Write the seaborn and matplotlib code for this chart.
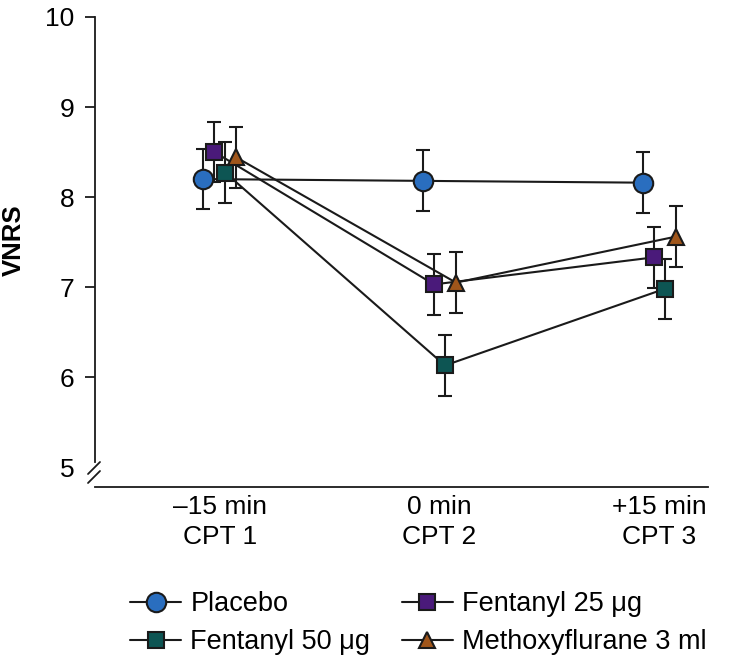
import matplotlib
matplotlib.use("Agg")
import matplotlib.pyplot as plt
from matplotlib.lines import Line2D
import numpy as np
import seaborn as sns

# time points (x categories)
timepoints = ["\u201315 min\nCPT 1", "0 min\nCPT 2", "+15 min\nCPT 3"]

# mean VNRS per group
placebo = [8.20, 8.18, 8.16]
fentanyl_25 = [8.50, 7.03, 7.33]
fentanyl_50 = [8.27, 6.13, 6.98]
methoxyflurane = [8.44, 7.05, 7.56]

# error bar half-widths
placebo_err = [0.33, 0.34, 0.34]
fentanyl_25_err = [0.33, 0.34, 0.34]
fentanyl_50_err = [0.34, 0.34, 0.33]
methoxyflurane_err = [0.34, 0.34, 0.34]

labels = ["Placebo", "Fentanyl 25 \u03bcg", "Fentanyl 50 \u03bcg", "Methoxyflurane 3 ml"]

STYLES = {
    "Placebo": dict(color="#2a6ebf", marker="o", ms=14, offset=-0.075),
    "Fentanyl 25 \u03bcg": dict(color="#4a1a7a", marker="s", ms=11, offset=-0.025),
    "Fentanyl 50 \u03bcg": dict(color="#0d5553", marker="s", ms=11, offset=0.025),
    "Methoxyflurane 3 ml": dict(color="#a0561b", marker="^", ms=11.5, offset=0.075),
}
INK = "#1a1a1a"

sns.set_style("ticks")
plt.rcParams["font.family"] = ["Liberation Sans", "DejaVu Sans"]
plt.rcParams["font.size"] = 19
plt.rcParams["text.color"] = "black"
plt.rcParams["xtick.color"] = INK
plt.rcParams["ytick.color"] = INK
plt.rcParams["xtick.labelcolor"] = "black"
plt.rcParams["ytick.labelcolor"] = "black"

W, H = 751, 664
fig = plt.figure(figsize=(W / 100, H / 100), dpi=100)
ax = fig.add_axes([95 / W, 1 - 487 / H, (708 - 95) / W, 470 / H])

series = [placebo, fentanyl_25, fentanyl_50, methoxyflurane]
errors = [placebo_err, fentanyl_25_err, fentanyl_50_err, methoxyflurane_err]
x = np.arange(len(timepoints))

for label, vals, err in zip(labels, series, errors):
    st = STYLES[label]
    xp = x + st["offset"]
    ax.errorbar(xp, vals, yerr=err, fmt="none", ecolor=INK,
                elinewidth=1.5, capsize=4.7, capthick=1.5, zorder=2)
    sns.lineplot(x=xp, y=vals, ax=ax, color=INK, lw=1.5,
                 marker=st["marker"], ms=st["ms"], markerfacecolor=st["color"],
                 markeredgecolor=INK, markeredgewidth=1.5, zorder=3)

ax.set_xlim(-0.569, 2.223)
ax.set_ylim(4.78, 10.0)
ax.set_xticks(x)
ax.set_xticklabels(timepoints, linespacing=1.3)
ax.set_yticks([5, 6, 7, 8, 9, 10])
ax.tick_params(axis="x", length=0, pad=6, labelsize=19)
ax.tick_params(axis="y", length=7, width=1.3, pad=8, labelsize=19)
ax.yaxis.get_major_ticks()[0].tick1line.set_visible(False)

sns.despine(ax=ax)
ax.spines["left"].set_bounds(5.056, 10)
for s in ("left", "bottom"):
    ax.spines[s].set_linewidth(1.3)
    ax.spines[s].set_color(INK)

# axis break marks
for dy in (0, 9):
    fig.add_artist(Line2D([88 / W, 100 / W], [1 - (474 + dy) / H, 1 - (462 + dy) / H],
                          color=INK, lw=1.3, transform=fig.transFigure))

fig.text(14 / W, 1 - 240 / H, "VNRS", rotation=90, ha="center", va="center",
         fontsize=18.5, fontweight="bold")

# legend
handles = {}
for label in labels:
    st = STYLES[label]
    handles[label] = Line2D([], [], color=INK, lw=1.5, marker=st["marker"],
                            ms=st["ms"], markerfacecolor=st["color"],
                            markeredgecolor=INK, markeredgewidth=1.5)
order = ["Placebo", "Fentanyl 50 \u03bcg", "Fentanyl 25 \u03bcg", "Methoxyflurane 3 ml"]
fig.legend([handles[k] for k in order], order, ncol=2, frameon=False,
           loc="upper left", bbox_to_anchor=(130 / W, 1 - 591 / H),
           borderpad=0, borderaxespad=0, handlelength=1.9, handletextpad=0.33,
           columnspacing=1.15, labelspacing=0.45, fontsize=19.5)

fig.savefig("out.png", dpi=100)
